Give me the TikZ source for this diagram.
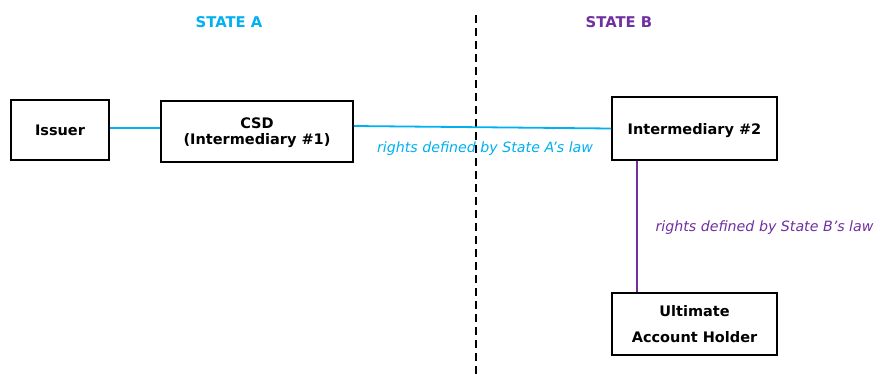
\documentclass[tikz,border=0pt]{standalone}
\usepackage{fontspec}
\setmainfont{DejaVu Sans}
\definecolor{stateA}{RGB}{0,176,240}
\definecolor{stateB}{RGB}{112,48,160}
\tikzset{
  party/.style={draw=black, line width=1.6pt, fill=white, align=center,
    font=\fontsize{14.5}{16}\selectfont\bfseries, inner sep=0pt, text depth=0pt},
  linkA/.style={draw=stateA, line width=1.8pt},
  linkB/.style={draw=stateB, line width=1.8pt},
  lawlabel/.style={font=\fontsize{14.2}{16}\selectfont\itshape}
}

\begin{document}
\begin{tikzpicture}[x=1pt, y=-1pt]
  \useasboundingbox (0,0) rectangle (877,381);
  \draw[line width=1.6pt, dash pattern=on 8pt off 5pt] (476,15) -- (476,378);
  \node[text=stateA, font=\fontsize{14.8}{16}\selectfont\bfseries] (stA) at (229,22) {STATE A};
  \node[text=stateB, font=\fontsize{14.8}{16}\selectfont\bfseries] (stB) at (619,22) {STATE B};
  \node[party, minimum width=98pt, minimum height=60pt] (issuer) at (60,130) {Issuer};
  \node[party, minimum width=192pt, minimum height=61pt] (csd) at (257,131.5) {CSD\\(Intermediary \#1)};
  \node[party, minimum width=165pt, minimum height=63pt] (inter) at (694.5,128.5) {Intermediary \#2};
  \node[party, minimum width=165pt, minimum height=62pt, font=\fontsize{14.5}{26}\selectfont\bfseries] (holder) at (694.5,324) {Ultimate\\Account Holder};
  \draw[linkA] ([yshift=2pt]issuer.east) -- ([yshift=3.5pt]csd.west);
  \draw[linkA] ([yshift=5.5pt]csd.east) -- (inter.west);
  \draw[linkB] ([xshift=25.5pt]inter.south west) -- ([xshift=25.5pt]holder.north west);
  \node[lawlabel, text=stateA] (lawA) at (485,149) {rights defined by State A’s law};
  \node[lawlabel, text=stateB, anchor=west] (lawB) at (652,228) {rights defined by State B’s law};
\end{tikzpicture}
\end{document}
